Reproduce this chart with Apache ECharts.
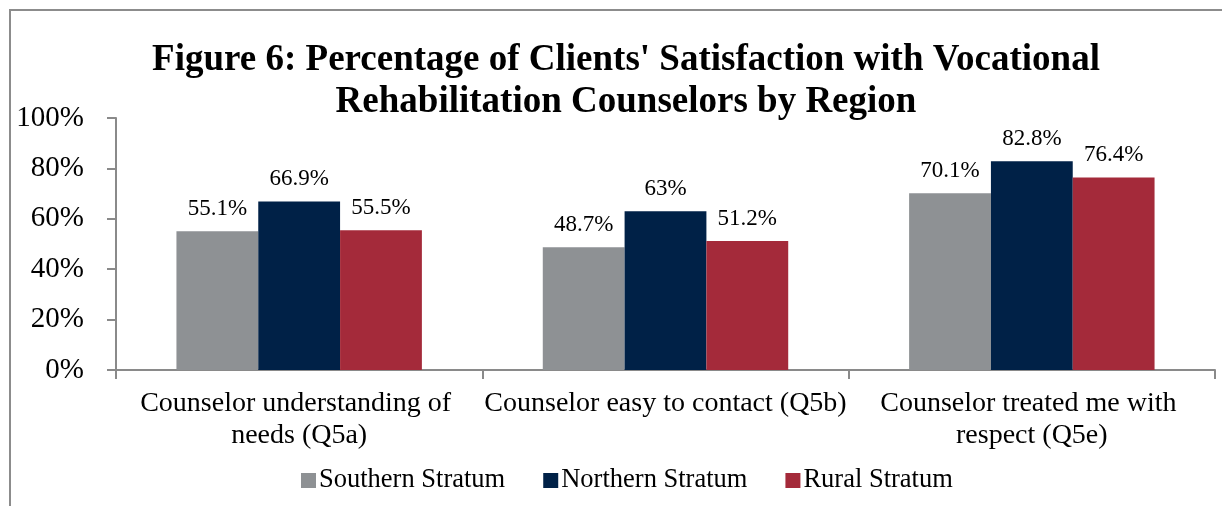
<!DOCTYPE html>
<html>
<head>
<meta charset="utf-8">
<script src="https://cdn.jsdelivr.net/npm/echarts@6/dist/echarts.min.js"></script>
<style>html,body{margin:0;padding:0;background:#fff}#c{width:1222px;height:506px}</style>
</head>
<body>
<div id="c"></div>
<script>
const titleText = "Figure 6: Percentage of Clients' Satisfaction with Vocational\nRehabilitation Counselors by Region";
const categories = ["Counselor understanding of needs (Q5a)", "Counselor easy to contact (Q5b)", "Counselor treated me with respect (Q5e)"];
const seriesNames = ["Southern Stratum", "Northern Stratum", "Rural Stratum"];
const southern = [55.1, 48.7, 70.1];
const northern = [66.9, 63, 82.8];
const rural = [55.5, 51.2, 76.4];
const colors = ["#8E9194", "#002147", "#A42A3A"];
const font = "'Liberation Serif','Times New Roman',serif";

const chart = echarts.init(document.getElementById('c'), null, {renderer: 'canvas'});
const values = [southern, northern, rural];
chart.setOption({
  animation: false,
  textStyle: {fontFamily: font, color: '#000'},
  graphic: [{
    type: 'rect', silent: true,
    shape: {x: 10, y: 10, width: 1400, height: 700},
    style: {fill: 'none', stroke: '#8c8c8c', lineWidth: 2}
  }],
  title: {
    text: titleText,
    left: 621, top: 34, textAlign: 'center',
    textStyle: {fontFamily: font, fontSize: 37, fontWeight: 'bold', color: '#000', lineHeight: 42}
  },
  legend: {
    data: seriesNames,
    left: 296, top: 462,
    itemWidth: 15, itemHeight: 15, itemGap: 38,
    icon: 'rect',
    textStyle: {fontFamily: font, fontSize: 26.5, color: '#000', padding: [0,0,0,-2]}
  },
  grid: {left: 116, right: 7, top: 118, bottom: 136, containLabel: false},
  xAxis: {
    type: 'category', data: categories,
    axisLine: {lineStyle: {color: '#8a8a8a', width: 2}},
    axisTick: {show: true, length: 9, lineStyle: {color: '#8a8a8a', width: 2}},
    axisLabel: {fontFamily: font, fontSize: 28, color: '#000', margin: 18, lineHeight: 32,
      width: 364, overflow: 'break', interval: 0}
  },
  yAxis: {
    type: 'value', min: 0, max: 100, interval: 20,
    axisLine: {show: true, lineStyle: {color: '#8a8a8a', width: 2}},
    axisTick: {show: true, length: 9, lineStyle: {color: '#8a8a8a', width: 2}},
    splitLine: {show: false},
    axisLabel: {fontFamily: font, fontSize: 29, color: '#000', margin: 32, formatter: '{value}%'}
  },
  series: seriesNames.map((n, i) => ({
    name: n, type: 'bar', data: values[i],
    barGap: '0%', barCategoryGap: '33%',
    itemStyle: {color: colors[i]},
    label: {show: true, position: 'top', distance: 11, formatter: '{c}%',
      fontFamily: font, fontSize: 23, color: '#000'}
  }))
});
</script>
</body>
</html>
